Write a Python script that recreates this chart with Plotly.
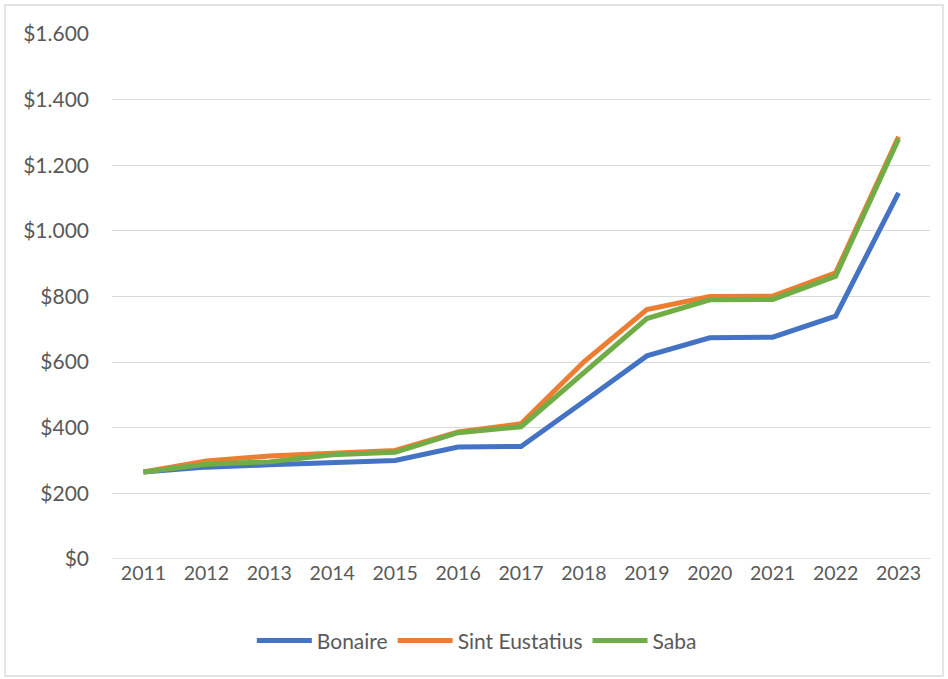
import plotly.graph_objects as go

years = ["2011", "2012", "2013", "2014", "2015", "2016", "2017", "2018", "2019", "2020", "2021", "2022", "2023"]
bonaire = [265, 280, 287, 295, 300, 341, 343, 480, 619, 674, 676, 740, 1116]
sint_eustatius = [265, 299, 314, 322, 331, 387, 412, 601, 760, 800, 801, 872, 1287]
saba = [265, 289, 296, 318, 325, 385, 403, 567, 733, 790, 791, 862, 1280]

series = [("Bonaire", bonaire, "#4472C4"),
          ("Sint Eustatius", sint_eustatius, "#ED7D31"),
          ("Saba", saba, "#70AD47")]

fig = go.Figure()
for name, vals, color in series:
    fig.add_trace(go.Scatter(x=years, y=vals, name=name, mode="lines",
                             line=dict(color=color, width=5)))

font_family = "Lato, 'Open Sans', sans-serif"
fig.update_layout(
    width=948, height=679,
    margin=dict(l=112, r=18, t=34, b=120),
    paper_bgcolor="white", plot_bgcolor="white",
    separators=",.",
    font=dict(family=font_family, size=20, color="#595959"),
    showlegend=True,
    legend=dict(orientation="h", x=0.446, xanchor="center", y=-0.156, yanchor="middle",
                font=dict(size=21, color="#595959"), itemwidth=55, tracegroupgap=0,
                bgcolor="rgba(0,0,0,0)"),
    xaxis=dict(type="category", showgrid=False, showline=False, zeroline=False,
               ticks="", tickfont=dict(size=19.5, color="#595959"), range=[-0.5, 12.5]),
    yaxis=dict(range=[0, 1600], dtick=200, tickprefix="$", tickformat=",d",
               showgrid=True, gridcolor="#D9D9D9", gridwidth=1.3, zeroline=False,
               showline=False, ticks="", ticklabelstandoff=22,
               tickfont=dict(size=21, color="#595959")),
    shapes=[dict(type="rect", xref="paper", yref="paper",
                 x0=(5 - 112) / 818, x1=(943 - 112) / 818,
                 y0=(559 - 676) / 525, y1=(559 - 5) / 525,
                 line=dict(color="#D9D9D9", width=1.3), fillcolor="rgba(0,0,0,0)", layer="below"),
            dict(type="line", xref="paper", yref="y", x0=0, x1=1, y0=0, y1=0,
                 line=dict(color="#D9D9D9", width=1.3), layer="below")],
)

fig.write_html("out.html", config={"displayModeBar": False},
               post_script="document.body.style.margin='0';")
